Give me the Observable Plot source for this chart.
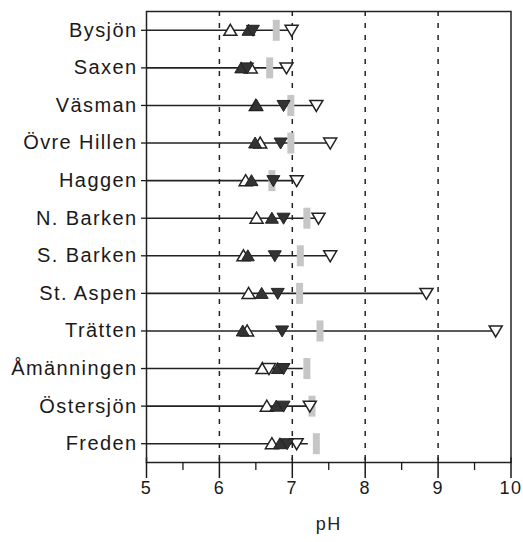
<!DOCTYPE html>
<html>
<head>
<meta charset="utf-8">
<script src="https://cdn.jsdelivr.net/npm/d3@7"></script>
<script src="https://cdn.jsdelivr.net/npm/@observablehq/plot@0.6"></script>
<style>
  html, body { margin: 0; padding: 0; background: white; }
</style>
</head>
<body>
<div id="chart"></div>
<script>
const lakes = ["Bysjön","Saxen","Väsman","Övre Hillen","Haggen","N. Barken","S. Barken","St. Aspen","Trätten","Åmänningen","Östersjön","Freden"];
const openUp     = [6.15, 6.43, 6.50, 6.56, 6.36, 6.51, 6.33, 6.40, 6.38, 6.59, 6.65, 6.72];
const filledUp   = [6.40, 6.30, 6.51, 6.49, 6.44, 6.72, 6.39, 6.58, 6.32, 6.80, 6.78, 6.83];
const filledDown = [6.46, 6.38, 6.88, 6.84, 6.74, 6.88, 6.76, 6.80, 6.86, 6.88, 6.88, 6.93];
const openDown   = [6.99, 6.92, 7.33, 7.52, 7.06, 7.36, 7.52, 8.84, 9.79, 6.68, 7.24, 7.06];
const grayVal    = [6.78, 6.69, 6.98, 6.98, 6.72, 7.20, 7.11, 7.10, 7.38, 7.20, 7.27, 7.33];
const lineEnd    = [6.99, 6.92, 7.33, 7.52, 7.06, 7.36, 7.52, 8.84, 9.79, 7.15, 7.20, 7.22];
const majorTicks = [5, 6, 7, 8, 9, 10];
const minorTicks = [5.5, 6.5, 7.5, 8.5, 9.5];
const gridTicks  = [6, 7, 8, 9];

const rows = lakes.map((lake, i) => ({
  lake, openUp: openUp[i], filledUp: filledUp[i], filledDown: filledDown[i],
  openDown: openDown[i], gray: grayVal[i], end: lineEnd[i]
}));

const triUp = { draw(ctx) { ctx.moveTo(0, -6); ctx.lineTo(6.5, 5); ctx.lineTo(-6.5, 5); ctx.closePath(); } };
const triDown = { draw(ctx) { ctx.moveTo(0, 6); ctx.lineTo(6.5, -5); ctx.lineTo(-6.5, -5); ctx.closePath(); } };
const grayBar = { draw(ctx) { ctx.rect(-3.5, -10.5, 7, 21); } };
const innerTick = { draw(ctx) { ctx.moveTo(0, -5); ctx.lineTo(0, 0); } };

const chart = Plot.plot({
  width: 523,
  height: 542,
  marginTop: 11,
  marginBottom: 80,
  marginLeft: 146,
  marginRight: 12.5,
  style: { fontFamily: "'Liberation Sans', Arial, sans-serif", background: "white", color: "#1a1a1a", letterSpacing: "1.4px" },
  x: { domain: [5, 10] },
  y: { type: "point", domain: lakes, padding: 0.5, round: false },
  marks: [
    Plot.ruleX(gridTicks, { stroke: "#222", strokeWidth: 1.5, strokeDasharray: "5,7" }),
    Plot.ruleY(rows, { y: "lake", x1: 5, x2: "end", stroke: "#222", strokeWidth: 1.6 }),
    Plot.dot(rows, { x: "gray", y: "lake", symbol: grayBar, fill: "#c6c6c6", stroke: "none" }),
    Plot.dot(rows, { x: "openUp", y: "lake", symbol: triUp, fill: "white", stroke: "#222", strokeWidth: 1.5 }),
    Plot.dot(rows, { x: "openDown", y: "lake", symbol: triDown, fill: "white", stroke: "#222", strokeWidth: 1.5 }),
    Plot.dot(rows, { x: "filledUp", y: "lake", symbol: triUp, fill: "#333", stroke: "#222", strokeWidth: 1 }),
    Plot.dot(rows, { x: "filledDown", y: "lake", symbol: triDown, fill: "#333", stroke: "#222", strokeWidth: 1 }),
    Plot.frame({ stroke: "#222", strokeWidth: 1.5 }),
    Plot.axisY({ tickSize: 5, tickPadding: 4, fontSize: 20, label: null, strokeWidth: 1.3 }),
    Plot.axisX({ ticks: majorTicks, tickSize: 16, tickPadding: 3, fontSize: 18, label: null, strokeWidth: 1.5, tickFormat: d => String(d) }),
    Plot.axisX({ ticks: minorTicks, tickSize: 8, text: null, label: null, strokeWidth: 1.3 }),
    Plot.dot(majorTicks, { x: d => d, frameAnchor: "bottom", symbol: innerTick, stroke: "#222", strokeWidth: 1.5, fill: "none" }),
    Plot.text(["pH"], { frameAnchor: "bottom", dy: 67, fontSize: 18, fill: "#222" })
  ]
});
document.getElementById("chart").appendChild(chart);
</script>
</body>
</html>
